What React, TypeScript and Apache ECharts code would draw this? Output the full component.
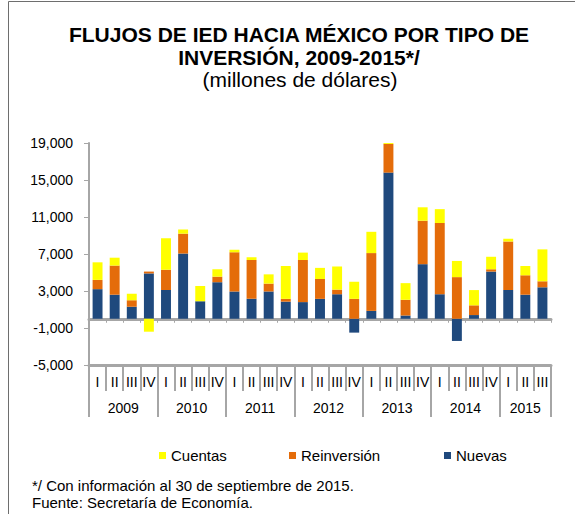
import React, { useEffect, useRef } from "react";
import * as echarts from "echarts";

const quarters = [
  "I", "II", "III", "IV",
  "I", "II", "III", "IV",
  "I", "II", "III", "IV",
  "I", "II", "III", "IV",
  "I", "II", "III", "IV",
  "I", "II", "III", "IV",
  "I", "II", "III",
];
const years = ["2009", "2010", "2011", "2012", "2013", "2014", "2015"];
const quartersPerYear = [4, 4, 4, 4, 4, 4, 3];

const nuevas = [
  3200, 2600, 1300, 4900,
  3100, 7050, 1900, 3950,
  2950, 2150, 2950, 1850,
  1800, 2150, 2650, -1500,
  850, 15800, 350, 5900,
  2650, -2400, 400, 5100,
  3100, 2600, 3400,
];
const reinversion = [
  1000, 3150, 700, 200,
  2200, 2150, 0, 600,
  4250, 4200, 850, 300,
  4550, 2150, 500, 2150,
  6250, 3100, 1700, 4700,
  7700, 4500, 1050, 250,
  5250, 2100, 650,
];
const cuentas = [
  1900, 850, 700, -1400,
  3400, 450, 1650, 800,
  250, 300, 1000, 3550,
  800, 1200, 2500, 1850,
  2300, 500, 1800, 1450,
  1500, 1750, 1650, 1350,
  300, 1000, 3450,
];
const yTicks = [-5000, -1000, 3000, 7000, 11000, 15000, 19000];

const FONT = "'Liberation Sans', Arial, Helvetica, sans-serif";
const GRAY = "#a6a6a6";

export default function App() {
  const ref = useRef<HTMLDivElement>(null);
  useEffect(() => {
    if (!ref.current) return;
    const chart = echarts.init(ref.current, undefined, { renderer: "svg" });

    const bounds: number[] = [0];
    const centers: number[] = [];
    quartersPerYear.forEach((q) => {
      const start = bounds[bounds.length - 1];
      bounds.push(start + q);
      centers.push(start + q / 2);
    });

    const legendBase = {
      top: 443,
      icon: "rect",
      itemWidth: 7,
      itemHeight: 7,
      textStyle: { fontSize: 15, color: "#000", fontFamily: FONT },
    };

    chart.setOption({
      animation: false,
      textStyle: { fontFamily: FONT },
      graphic: [
        {
          type: "rect",
          shape: { x: 8.5, y: 1.5, width: 620, height: 560 },
          style: { fill: "none", stroke: "#6e6e6e", lineWidth: 1 },
          silent: true,
        },
        {
          type: "text",
          x: 299,
          y: 34,
          style: {
            text: "FLUJOS DE IED HACIA MÉXICO POR TIPO DE",
            font: `bold 21px ${FONT}`,
            fill: "#000",
            align: "center",
            verticalAlign: "middle",
          },
        },
        {
          type: "text",
          x: 299,
          y: 57,
          style: {
            text: "INVERSIÓN, 2009-2015*/",
            font: `bold 21px ${FONT}`,
            fill: "#000",
            align: "center",
            verticalAlign: "middle",
          },
        },
        {
          type: "text",
          x: 300,
          y: 79,
          style: {
            text: "(millones de dólares)",
            font: `21px ${FONT}`,
            fill: "#000",
            align: "center",
            verticalAlign: "middle",
          },
        },
        {
          type: "text",
          x: 32,
          y: 485,
          style: {
            text: "*/ Con información al 30 de septiembre de 2015.",
            font: `15px ${FONT}`,
            fill: "#000",
            verticalAlign: "middle",
          },
        },
        {
          type: "text",
          x: 32,
          y: 502,
          style: {
            text: "Fuente: Secretaría de Economía.",
            font: `15px ${FONT}`,
            fill: "#000",
            verticalAlign: "middle",
          },
        },
      ],
      legend: [
        { ...legendBase, data: ["Cuentas"], left: 154 },
        { ...legendBase, data: ["Reinversión"], left: 284 },
        { ...legendBase, data: ["Nuevas"], left: 439 },
      ],
      grid: { left: 89, right: 24, top: 143, bottom: 149, containLabel: false },
      xAxis: [
        {
          type: "category",
          data: quarters,
          position: "bottom",
          axisLine: { show: true, onZero: false, lineStyle: { color: GRAY, width: 3 } },
          axisTick: { show: true, length: 26, lineStyle: { color: GRAY, width: 2 } },
          axisLabel: { interval: 0, fontSize: 14, color: "#000", margin: 10 },
          splitLine: { show: false },
        },
        {
          type: "category",
          data: quarters,
          position: "bottom",
          axisLine: { show: true, onZero: true, lineStyle: { color: GRAY, width: 3 } },
          axisTick: { show: true, length: 4, lineStyle: { color: GRAY, width: 1 } },
          axisLabel: { show: false },
          splitLine: { show: false },
        },
        {
          type: "value",
          min: 0,
          max: bounds[bounds.length - 1],
          position: "bottom",
          axisLine: { show: false, onZero: false },
          axisTick: {
            show: true,
            length: 52,
            customValues: bounds,
            lineStyle: { color: GRAY, width: 2 },
          },
          axisLabel: {
            show: true,
            customValues: centers,
            fontSize: 14,
            color: "#000",
            margin: 36,
            formatter: (v: number) => {
              const i = centers.findIndex((c) => Math.abs(c - v) < 1e-6);
              return i >= 0 ? years[i] : "";
            },
          },
          splitLine: { show: false },
        },
      ],
      yAxis: {
        type: "value",
        min: -5000,
        max: 19000,
        axisLine: { show: true, lineStyle: { color: GRAY, width: 2 } },
        axisTick: { show: true, length: 5, customValues: yTicks, lineStyle: { color: GRAY, width: 1 } },
        axisLabel: {
          customValues: yTicks,
          fontSize: 14,
          color: "#000",
          margin: 16,
          formatter: (v: number) => v.toLocaleString("en-US"),
        },
        splitLine: { show: false },
      },
      series: [
        {
          name: "Nuevas",
          type: "bar",
          stack: "total",
          barWidth: "58%",
          data: nuevas,
          itemStyle: { color: "#1f497d" },
        },
        {
          name: "Reinversión",
          type: "bar",
          stack: "total",
          data: reinversion,
          itemStyle: { color: "#e46c0a" },
        },
        {
          name: "Cuentas",
          type: "bar",
          stack: "total",
          data: cuentas,
          itemStyle: { color: "#ffff00" },
        },
      ],
    });
    return () => chart.dispose();
  }, []);
  return (
    <div
      ref={ref}
      style={{ position: "absolute", left: 0, top: 0, width: 575, height: 514 }}
    />
  );
}
